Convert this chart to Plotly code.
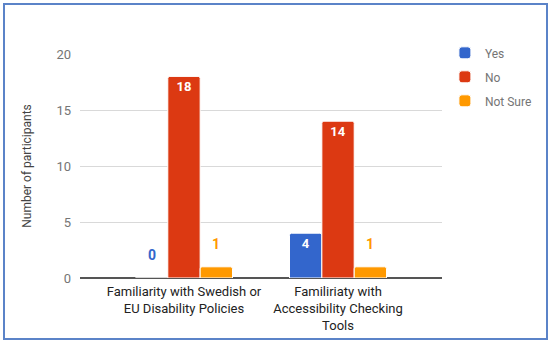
import plotly.graph_objects as go

categories = ["Familiarity with Swedish or<br>EU Disability Policies",
              "Familiriaty with<br>Accessibility Checking<br>Tools"]
series_names = ["Yes", "No", "Not Sure"]
yes_values = [0, 4]
no_values = [18, 14]
notsure_values = [1, 1]
y_ticks = [0, 5, 10, 15, 20]

colors = ["#3366CC", "#DC3912", "#FF9900"]
series_values = [yes_values, no_values, notsure_values]
BARGAP = 0.37
INSIDE_MIN = 3

fig = go.Figure()
annotations = []
n = len(series_names)
for k, (name, vals, col) in enumerate(zip(series_names, series_values, colors)):
    texts = [str(v) if v >= INSIDE_MIN else "" for v in vals]
    fig.add_trace(go.Bar(
        name=name, x=categories, y=vals, marker_color=col,
        marker_line_color="white", marker_line_width=1,
        text=texts, textposition="inside", insidetextanchor="end",
        textfont=dict(color="white", size=13, family="Roboto"),
        textangle=0, legendgroup=name, hoverinfo="skip",
    ))
    for i, v in enumerate(vals):
        if v < INSIDE_MIN:
            off = (k - (n - 1) / 2) * (1 - BARGAP) / n
            annotations.append(dict(
                x=i + off, y=v, xref="x", yref="y", text="<b>%d</b>" % v,
                showarrow=False, yshift=23, yanchor="middle",
                font=dict(color=col, size=14, family="Roboto"),
            ))

fig.update_traces(texttemplate="<b>%{text}</b>")

fig.update_layout(
    width=550, height=343,
    margin=dict(l=80, r=108, t=54, b=65, autoexpand=False),
    paper_bgcolor="white", plot_bgcolor="white",
    barmode="group", bargap=BARGAP, bargroupgap=0,
    barcornerradius=2,
    font=dict(family="Roboto", size=13, color="#757575"),
    xaxis=dict(range=[-0.675, 1.675], showgrid=False, ticks="",
               ticklabelstandoff=4,
               tickfont=dict(color="#222222", size=13)),
    yaxis=dict(range=[0, 20], tickvals=y_ticks, showgrid=True,
               gridcolor="#D9D9D9", gridwidth=1, zeroline=True,
               zerolinecolor="#555555", zerolinewidth=2,
               tickfont=dict(color="#757575", size=13), ticklabelstandoff=8,
               title=dict(text="Number of participants",
                          font=dict(color="#444444", size=12), standoff=22)),
    legend=dict(x=1.008, y=1.07, xanchor="left", yanchor="top",
                font=dict(color="#757575", size=12), tracegroupgap=5),
    annotations=annotations,
    shapes=[dict(type="rect", xref="paper", yref="paper",
                 x0=(4 - 80) / 362, x1=(547 - 80) / 362,
                 y0=-(339 - 278) / 224, y1=1 + (54 - 4) / 224,
                 line=dict(color="#5B83C8", width=2))],
)

fig.write_html("out.html", config={"displayModeBar": False},
               post_script="document.body.style.margin='0';document.body.style.overflow='hidden';")
